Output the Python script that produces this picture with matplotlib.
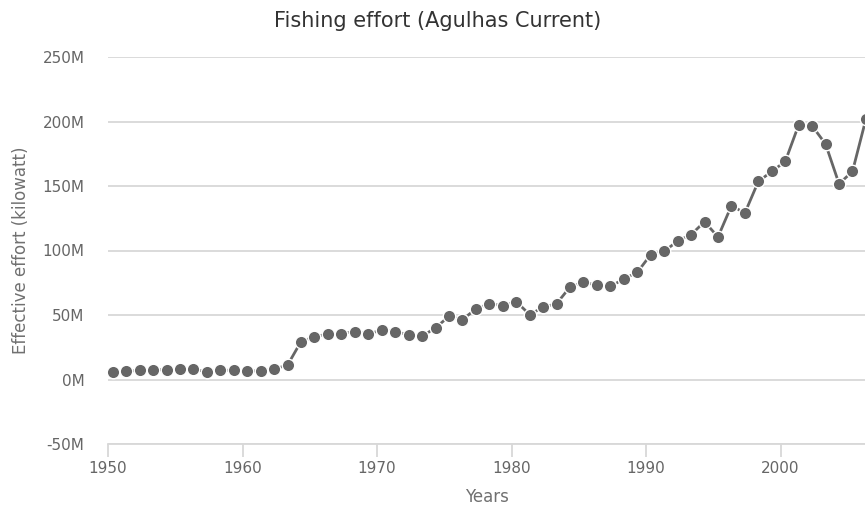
import numpy as np
import matplotlib
matplotlib.use("Agg")
import matplotlib.pyplot as plt
from matplotlib.ticker import FuncFormatter

# data (effective effort, millions of kilowatt)
years = np.arange(1950, 2007)
effort = [6.0, 6.5, 7.0, 7.2, 7.7, 7.8, 8.2, 5.7, 7.3, 7.0, 6.6, 6.6, 8.0, 11.2,
          29.4, 33.0, 35.4, 35.6, 37.2, 35.4, 38.2, 37.2, 34.6, 33.6, 40.0, 49.0,
          46.4, 54.7, 58.8, 57.3, 60.4, 50.3, 56.0, 58.8, 71.7, 75.6, 73.0, 72.2,
          77.9, 83.1, 96.8, 99.3, 107.4, 112.3, 122.3, 110.5, 134.7, 129.1, 153.5,
          161.3, 169.0, 197.4, 196.6, 182.5, 151.7, 161.3, 202.0]
yticks = [-50, 0, 50, 100, 150, 200, 250]
xticks = [1950, 1960, 1970, 1980, 1990, 2000]

fig = plt.figure(figsize=(8.65, 5.13), dpi=100)
ax = fig.add_axes([108 / 865, 69 / 513, 757 / 865, 387 / 513])

# points sit a little after the year tick
x = years + 0.35
y = np.array(effort) * 1e6
ax.plot(x, y, "-", color="#666666", lw=2, zorder=3, clip_on=False)
ax.plot(x, y, "o", color="#666666", ms=9, mec="white", mew=1, zorder=4, clip_on=False)

ax.set_xlim(1950, 2006.28)
ax.set_ylim(-50e6, 250e6)
ax.set_yticks([v * 1e6 for v in yticks])
ax.set_xticks(xticks)
ax.yaxis.set_major_formatter(FuncFormatter(lambda v, p: "%dM" % round(v / 1e6)))
ax.grid(axis="y", color="#d8d8d8", lw=1.3)
ax.set_axisbelow(True)

for s in ["top", "right", "left"]:
    ax.spines[s].set_visible(False)
ax.spines["bottom"].set_color("#d8d8d8")
ax.spines["bottom"].set_linewidth(1.3)

ax.tick_params(axis="y", length=0, pad=17, labelsize=11, labelcolor="#666666")
ax.tick_params(axis="x", length=9, width=1.3, color="#d8d8d8", pad=3,
               labelsize=11, labelcolor="#666666")

ax.set_ylabel("Effective effort (kilowatt)", fontsize=12, color="#707070", labelpad=9)
ax.set_xlabel("Years", fontsize=12, color="#707070", labelpad=9)
fig.text(0.506, 0.96, "Fishing effort (Agulhas Current)", ha="center", va="center",
         fontsize=15, color="#333333")

fig.savefig("out.png", dpi=100)
